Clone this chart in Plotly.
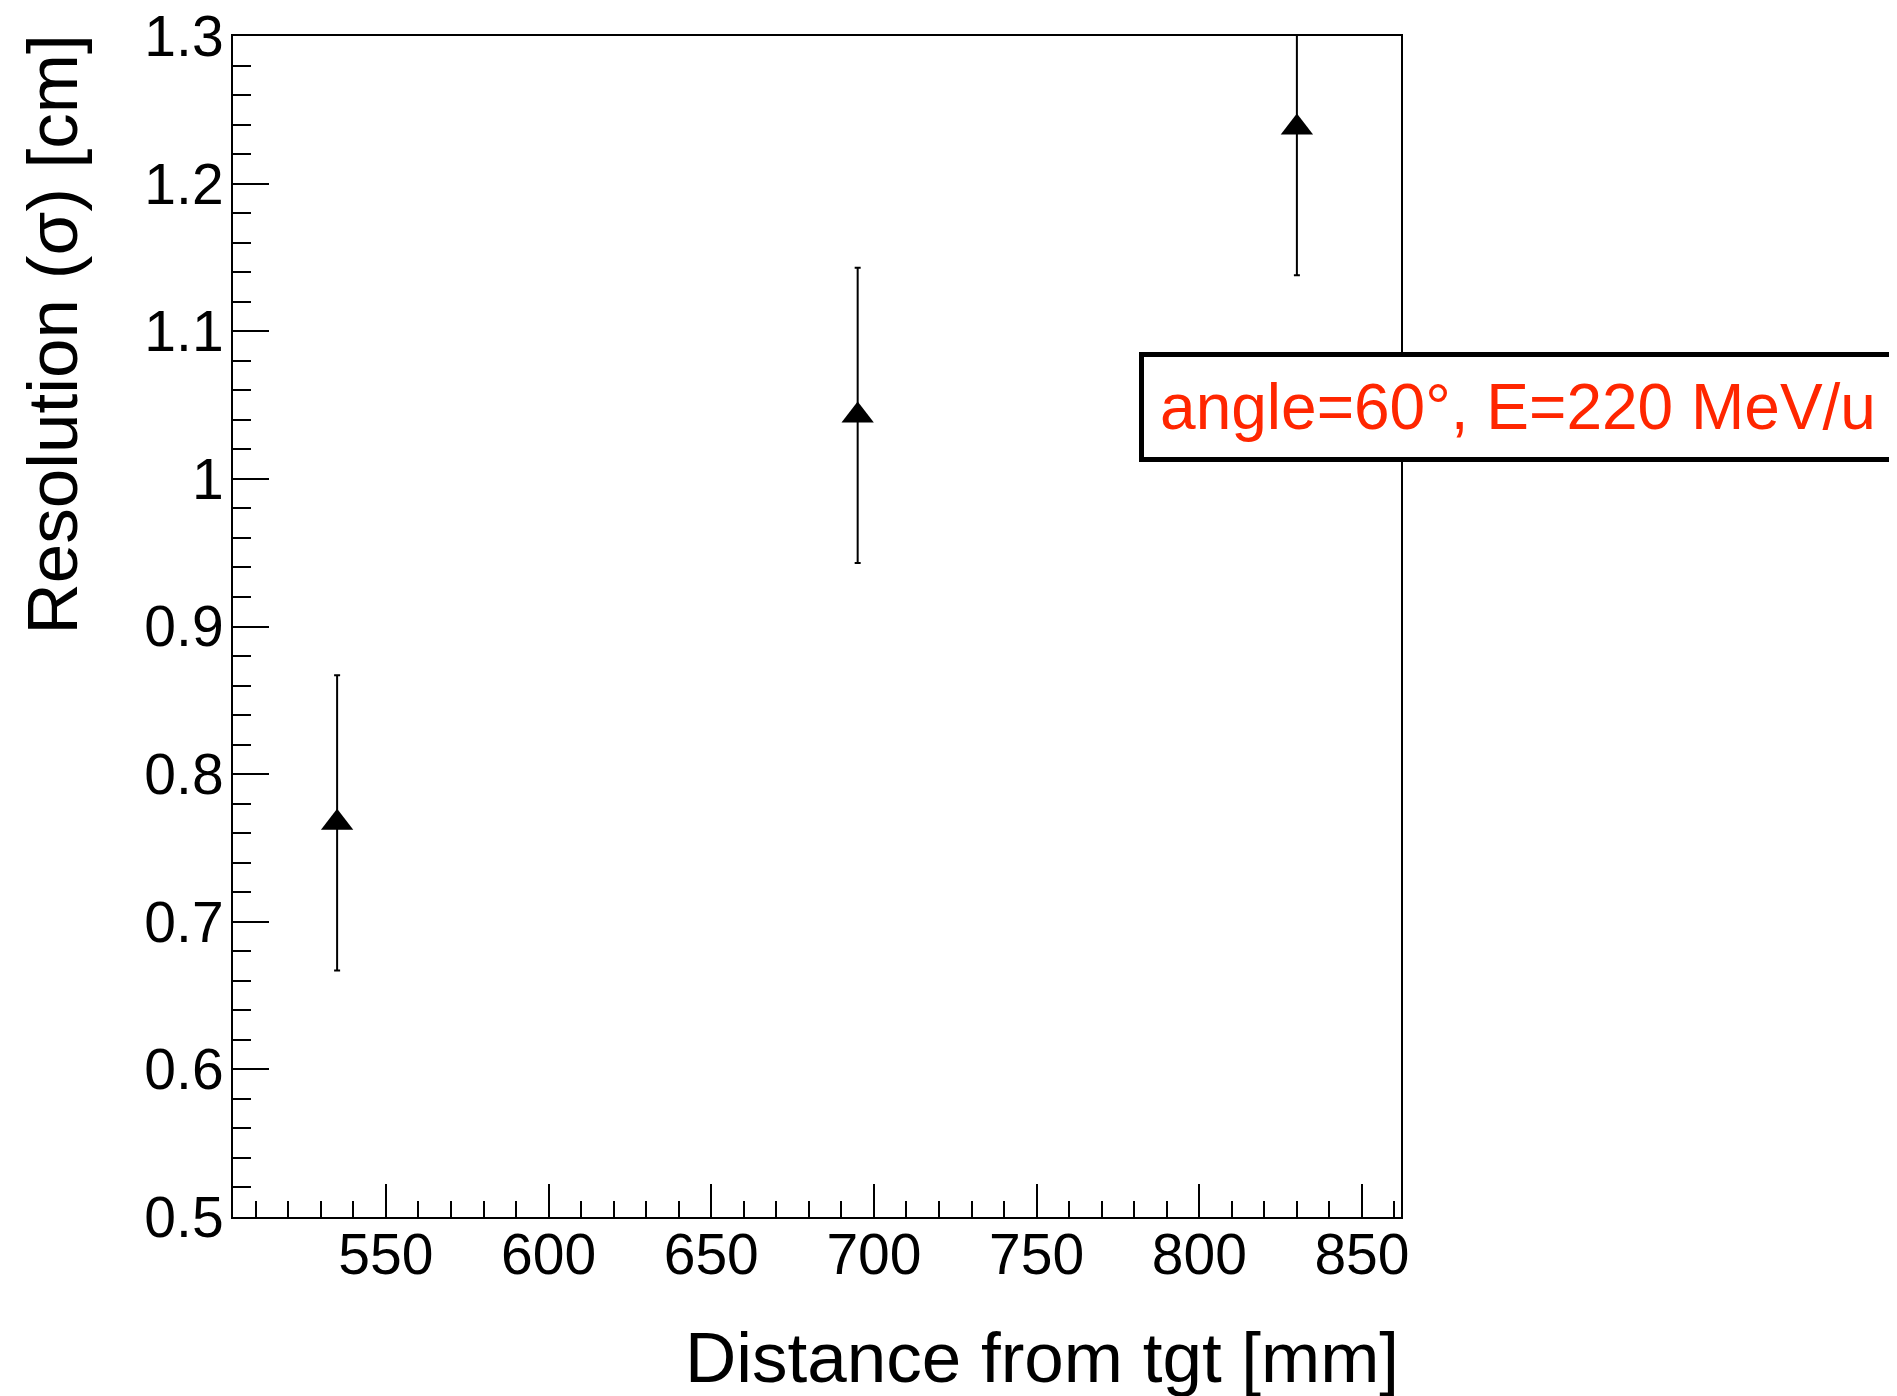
import plotly.graph_objects as go

# distance from target [mm] and resolution sigma [cm]
distance = [535, 695, 830]
resolution = [0.767, 1.043, 1.238]
resolution_err = [0.100, 0.100, 0.100]

label_text = "angle=60°, E=220 MeV/u"
x_title = "Distance from tgt [mm]"
y_title = "Resolution (σ) [cm]"

FONT = "Liberation Sans, Arial, Helvetica, sans-serif"

fig = go.Figure()
fig.add_trace(go.Scatter(
    x=distance, y=resolution, mode="markers",
    marker=dict(symbol="triangle-up", size=28, color="black"),
    error_y=dict(type="data", array=resolution_err, color="black",
                 thickness=2, width=3),
    showlegend=False, cliponaxis=True,
))

axis_common = dict(
    showline=True, linecolor="black", linewidth=2, mirror=True,
    ticks="inside", tickcolor="black", tickwidth=2,
    showgrid=False, zeroline=False, ticklabeloverflow="allow",
    automargin=False,
    tickfont=dict(family=FONT, size=57, color="black"),
)

fig.update_xaxes(range=[503, 862], dtick=50, ticklen=33,
                 ticklabelstandoff=-13,
                 minor=dict(ticks="inside", dtick=10, ticklen=16,
                            tickwidth=2, tickcolor="black", showgrid=False),
                 **axis_common)
fig.update_yaxes(range=[0.5, 1.3], dtick=0.1, ticklen=36,
                 ticklabelstandoff=-4,
                 minor=dict(ticks="inside", dtick=0.02, ticklen=18,
                            tickwidth=2, tickcolor="black", showgrid=False),
                 **axis_common)

fig.update_layout(
    width=1897, height=1396, autosize=False,
    margin=dict(l=225, r=504, t=28, b=187),
    plot_bgcolor="white", paper_bgcolor="white",
    annotations=[
        dict(text=x_title, xref="paper", yref="paper", x=1.0, y=-0.119,
             xanchor="right", yanchor="middle", showarrow=False,
             font=dict(family=FONT, size=71, color="black")),
        dict(text=y_title, xref="paper", yref="paper", x=-0.155, y=1.003,
             xanchor="center", yanchor="top", textangle=-90, showarrow=False,
             font=dict(family=FONT, size=71, color="black")),
        dict(text=label_text, xref="paper", yref="paper", x=1.1002, y=0.6857,
             xanchor="center", yanchor="middle", showarrow=False,
             width=748, height=100, borderpad=0, borderwidth=5,
             bordercolor="black", bgcolor="white",
             font=dict(family=FONT, size=64, color="rgb(255,38,0)")),
    ],
)

fig.write_html("out.html")
